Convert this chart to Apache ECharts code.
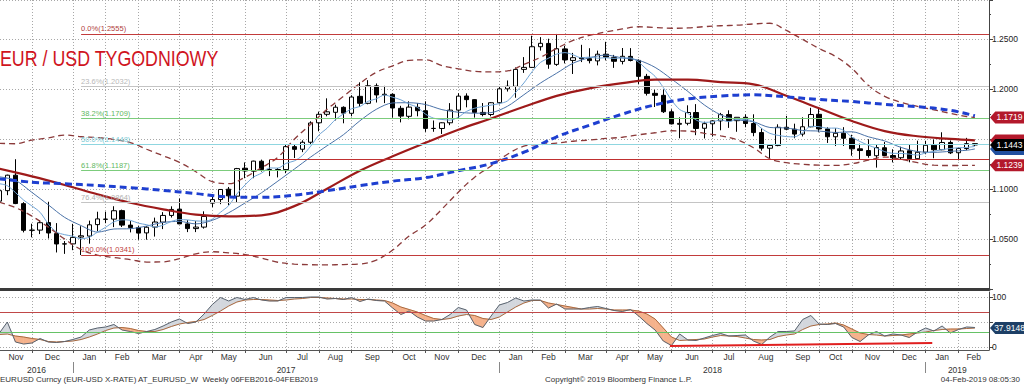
<!DOCTYPE html>
<html><head><meta charset="utf-8">
<script src="https://cdn.jsdelivr.net/npm/echarts@6/dist/echarts.min.js"></script>
<style>html,body{margin:0;padding:0;background:#fff}#c{width:1024px;height:385px}</style>
</head><body><div id="c"></div>
<script>
// ---------- DATA (weekly bars, first bar = week ending 2016-10-28) ----------
const firstBarDate = [2016, 9, 28];
const monthNames = ['Jan','Feb','Mar','Apr','May','Jun','Jul','Aug','Sep','Oct','Nov','Dec'];

const openP = [
1.0880,1.0985,1.1140,1.0855,1.0588,1.0590,1.0665,1.0555,1.0450,1.0452,
1.0520,1.0530,1.0645,1.0700,1.0700,1.0785,1.0640,1.0615,1.0562,1.0620,
1.0670,1.0737,1.0800,1.0652,1.0605,1.0620,1.0860,1.0896,1.1000,1.0930,
1.1210,1.1180,1.1280,1.1195,1.1197,1.1196,1.1426,1.1400,1.1470,1.1665,
1.1750,1.1770,1.1820,1.1760,1.1930,1.1860,1.2035,1.1945,1.1950,1.1810,
1.1730,1.1820,1.1786,1.1609,1.1608,1.1665,1.1792,1.1933,1.1897,1.1769,
1.1748,1.1866,1.2005,1.2030,1.2200,1.2220,1.2427,1.2460,1.2250,1.2405,
1.2290,1.2318,1.2307,1.2285,1.2352,1.2320,1.2280,1.2330,1.2290,1.2130,
1.1960,1.1940,1.1775,1.1650,1.1660,1.1768,1.1610,1.1655,1.1684,1.1747,
1.1686,1.1720,1.1658,1.1567,1.1410,1.1437,1.1620,1.1601,1.1552,1.1625,
1.1750,1.1604,1.1525,1.1560,1.1510,1.1404,1.1387,1.1335,1.1415,1.1337,
1.1315,1.1385,1.1305,1.1370,1.1440,1.1395,1.1468,1.1365,1.1407,1.1456];
const closeP = [
1.0985,1.1140,1.0856,1.0588,1.0590,1.0664,1.0561,1.0451,1.0453,1.0517,
1.0533,1.0643,1.0702,1.0698,1.0784,1.0640,1.0615,1.0560,1.0619,1.0671,
1.0737,1.0797,1.0652,1.0605,1.0620,1.0727,1.0896,1.0997,1.0933,1.1206,
1.1183,1.1281,1.1196,1.1197,1.1196,1.1426,1.1399,1.1470,1.1663,1.1750,
1.1775,1.1821,1.1762,1.1923,1.1860,1.2036,1.1944,1.1951,1.1813,1.1732,
1.1822,1.1786,1.1609,1.1608,1.1665,1.1792,1.1932,1.1897,1.1769,1.1748,
1.1866,1.2005,1.2031,1.2200,1.2220,1.2427,1.2461,1.2252,1.2407,1.2295,
1.2317,1.2307,1.2288,1.2352,1.2323,1.2281,1.2331,1.2289,1.2130,1.1960,
1.1940,1.1776,1.1654,1.1659,1.1768,1.1608,1.1656,1.1684,1.1747,1.1686,
1.1720,1.1658,1.1567,1.1411,1.1438,1.1620,1.1601,1.1552,1.1625,1.1748,
1.1604,1.1525,1.1560,1.1510,1.1404,1.1387,1.1337,1.1417,1.1337,1.1315,
1.1383,1.1305,1.1370,1.1440,1.1395,1.1468,1.1364,1.1407,1.1456,1.1443];
const lowP = [
1.0860,1.0940,1.0850,1.0567,1.0518,1.0550,1.0506,1.0366,1.0352,1.0389,
1.0340,1.0454,1.0579,1.0659,1.0620,1.0621,1.0567,1.0494,1.0494,1.0525,
1.0600,1.0716,1.0652,1.0570,1.0570,1.0605,1.0820,1.0850,1.0839,1.0869,
1.1110,1.1110,1.1176,1.1131,1.1118,1.1160,1.1312,1.1371,1.1450,1.1580,
1.1730,1.1689,1.1660,1.1730,1.1823,1.1850,1.1868,1.1862,1.1717,1.1669,
1.1700,1.1730,1.1574,1.1575,1.1553,1.1641,1.1712,1.1820,1.1717,1.1730,
1.1730,1.1850,1.1978,1.1916,1.2165,1.2215,1.2388,1.2206,1.2235,1.2260,
1.2154,1.2273,1.2260,1.2240,1.2290,1.2215,1.2250,1.2280,1.2054,1.1938,
1.1823,1.1763,1.1649,1.1510,1.1640,1.1541,1.1508,1.1527,1.1590,1.1614,
1.1575,1.1620,1.1530,1.1386,1.1301,1.1430,1.1590,1.1510,1.1528,1.1620,
1.1570,1.1463,1.1432,1.1433,1.1335,1.1301,1.1315,1.1216,1.1330,1.1268,
1.1300,1.1269,1.1300,1.1350,1.1310,1.1390,1.1352,1.1289,1.1390,1.1433];
const highP = [
1.0990,1.1145,1.1300,1.0870,1.0654,1.0690,1.0874,1.0660,1.0480,1.0653,
1.0629,1.0685,1.0774,1.0775,1.0829,1.0795,1.0680,1.0630,1.0630,1.0715,
1.0770,1.0828,1.0906,1.0690,1.0680,1.0778,1.0950,1.1000,1.1022,1.1213,
1.1268,1.1285,1.1296,1.1296,1.1212,1.1445,1.1445,1.1490,1.1680,1.1777,
1.1910,1.1846,1.1830,1.1941,1.2070,1.2092,1.2059,1.2035,1.1960,1.1835,
1.1880,1.1860,1.1880,1.1688,1.1670,1.1862,1.1961,1.1960,1.1900,1.1863,
1.1872,1.2030,1.2089,1.2219,1.2323,1.2537,1.2523,1.2507,1.2555,1.2437,
1.2365,1.2446,1.2412,1.2388,1.2476,1.2345,1.2414,1.2413,1.2300,1.2155,
1.1996,1.1998,1.1800,1.1720,1.1840,1.1852,1.1676,1.1690,1.1764,1.1790,
1.1720,1.1750,1.1750,1.1610,1.1445,1.1650,1.1734,1.1656,1.1720,1.1815,
1.1815,1.1620,1.1610,1.1621,1.1545,1.1456,1.1500,1.1450,1.1472,1.1400,
1.1425,1.1443,1.1486,1.1485,1.1497,1.1570,1.1488,1.1415,1.1514,1.1460];

// fast moving average (one value per week)
const maFast = [
1.1055,1.1035,1.0966,1.0890,1.0832,1.0768,1.0652,1.0571,1.0544,1.0529,
1.0503,1.0519,1.0570,1.0619,1.0672,1.0693,1.0688,1.0659,1.0644,1.0621,
1.0640,1.0677,1.0695,1.0692,1.0682,1.0680,1.0700,1.0769,1.0835,1.0952,
1.1043,1.1120,1.1160,1.1213,1.1211,1.1259,1.1283,1.1338,1.1431,1.1542,
1.1611,1.1696,1.1754,1.1806,1.1828,1.1880,1.1905,1.1943,1.1921,1.1895,
1.1852,1.1821,1.1752,1.1711,1.1698,1.1692,1.1721,1.1779,1.1811,1.1828,
1.1842,1.1857,1.1884,1.1970,1.2064,1.2177,1.2268,1.2312,1.2353,1.2368,
1.2346,1.2316,1.2323,1.2312,1.2317,1.2310,1.2315,1.2315,1.2271,1.2198,
1.2130,1.2019,1.1892,1.1798,1.1759,1.1693,1.1669,1.1675,1.1693,1.1676,
1.1699,1.1699,1.1676,1.1608,1.1559,1.1539,1.1527,1.1524,1.1567,1.1629,
1.1626,1.1611,1.1612,1.1589,1.1521,1.1477,1.1440,1.1411,1.1376,1.1359,
1.1358,1.1351,1.1342,1.1363,1.1379,1.1396,1.1407,1.1415,1.1418,1.1428];

// lines read every second week (week index in weeks2)
const weeks2 = [0,2,4,6,8,10,12,14,16,18,20,22,24,26,28,30,32,34,36,38,40,42,44,46,48,50,52,54,56,58,
  60,62,64,66,68,70,72,74,76,78,80,82,84,86,88,90,92,94,96,98,100,102,104,106,108,110,112,114,116,118,119];
const maSlow = [
1.1124,1.1088,1.0968,1.0843,1.0717,1.0635,1.0570,1.0601,1.0604,1.0631,
1.0667,1.0677,1.0652,1.0688,1.0764,1.0862,1.0964,1.1081,1.1201,1.1322,
1.1435,1.1546,1.1685,1.1800,1.1864,1.1866,1.1848,1.1797,1.1771,1.1761,
1.1767,1.1831,1.1946,1.2062,1.2162,1.2262,1.2317,1.2343,1.2315,1.2291,
1.2220,1.2104,1.1979,1.1844,1.1745,1.1696,1.1675,1.1618,1.1613,1.1588,
1.1582,1.1568,1.1575,1.1525,1.1483,1.1418,1.1377,1.1369,1.1379,1.1390,1.1403];
const bbUpper = [
1.1460,1.1455,1.1492,1.1513,1.1542,1.1525,1.1516,1.1497,1.1466,1.1400,
1.1335,1.1268,1.1175,1.1075,1.1055,1.1120,1.1215,1.1320,1.1500,1.1650,
1.1800,1.1930,1.2060,1.2170,1.2235,1.2290,1.2295,1.2238,1.2205,1.2180,
1.2175,1.2185,1.2250,1.2320,1.2410,1.2490,1.2540,1.2575,1.2605,1.2627,
1.2620,1.2612,1.2615,1.2628,1.2637,1.2643,1.2655,1.2662,1.2590,1.2500,
1.2410,1.2330,1.2210,1.2040,1.1930,1.1870,1.1830,1.1795,1.1760,1.1728,1.1719];
const bbLower = [
1.0870,1.0815,1.0730,1.0620,1.0500,1.0395,1.0340,1.0315,1.0295,1.0270,
1.0272,1.0305,1.0352,1.0373,1.0362,1.0345,1.0310,1.0268,1.0250,1.0243,
1.0242,1.0245,1.0250,1.0290,1.0390,1.0530,1.0640,1.0800,1.0970,1.1120,
1.1232,1.1350,1.1430,1.1448,1.1462,1.1480,1.1492,1.1508,1.1520,1.1545,
1.1565,1.1585,1.1582,1.1560,1.1535,1.1495,1.1415,1.1305,1.1265,1.1250,
1.1240,1.1238,1.1255,1.1290,1.1322,1.1298,1.1265,1.1240,1.1237,1.1238,1.1239];

// lines read every fourth week (week index in weeks4)
const weeks4 = [0,4,8,12,16,20,24,28,32,36,40,44,48,52,56,60,64,68,72,76,80,84,88,92,96,100,104,108,112,116,119];
const maRed = [
1.1205,1.1128,1.1042,1.0949,1.0864,1.0798,1.0745,1.0727,1.0738,1.0830,
1.1005,1.1185,1.1330,1.1465,1.1595,1.1708,1.1825,1.1935,1.2010,1.2062,
1.2097,1.2098,1.2072,1.2050,1.1935,1.1810,1.1683,1.1582,1.1530,1.1503,1.1488];
const maBlue = [
1.1104,1.1070,1.1054,1.1037,1.1015,1.0988,1.0956,1.0922,1.0918,1.0940,
1.0985,1.1035,1.1080,1.1115,1.1185,1.1256,1.1370,1.1525,1.1640,1.1752,
1.1845,1.1905,1.1933,1.1945,1.1925,1.1898,1.1878,1.1850,1.1826,1.1790,1.1735];

// stochastic oscillator (one value per week)
const stochK = [
27,50,10,6,8,17,10,9,11,15, 20,34,38,40,45,34,31,27,31,35,
42,50,56,47,50,66,85,99,92,99, 95,99,94,92,92,99,99,99,100,100,
96,97,95,99,91,96,93,92,78,65, 72,60,52,52,55,65,79,74,45,39,
62,84,89,98,92,94,94,78,86,76, 76,76,79,81,77,73,71,75,62,47,
34,12,3,26,14,13,18,23,27,22, 23,24,12,5,20,31,31,32,55,63,
46,45,47,40,19,11,24,31,22,26, 24,19,30,38,32,42,28,35,40,39];
const stochD = [
25,26,22,20,17,15,11,10,11,12, 15,20,26,33,38,39,37,33,31,31,
35,41,46,49,51,55,63,72,82,90, 94,95,95,94,93,94,96,97,99,99,
98,97,96,96,95,95,94,93,88,80, 75,70,63,57,55,57,62,65,63,57,
55,60,70,80,88,93,93,88,85,82, 79,76,76,77,76,74,74,74,72,66,
56,38,20,13,14,15,16,20,23,22, 21,18,15,14,15,21,24,26,35,42,
45,46,48,44,36,28,25,24,22,23, 24,26,28,30,33,35,36,36,37,37.9148];
const stochTrend = [[81.8, 2], [113.8, 8]];

// retracement levels
const fibPct = ['0.0%','23.6%','38.2%','50.0%','61.8%','76.4%','100.0%'];
const fibLevel = [1.2555, 1.2032, 1.1709, 1.1448, 1.1187, 1.0864, 1.0341];
const fibStartWeek = 10;
const supportLevel = 1.1300, supportStartWeek = 33;
const stochUpper = 70, stochLower = 30;

// ---------- LAYOUT / STYLE ----------
const FONT = 'Liberation Sans, Arial, sans-serif';
const X_MIN = 0.11, X_MAX = 120.72;
const fibColor = ['#c23b3b','#c4c4c4','#7ccc7c','#8fd6e0','#7ccc7c','#c4c4c4','#c23b3b'];
const fibText  = ['#b04040','#b8b8b8','#5fb85f','#7ccbd6','#5fb85f','#b0b0b0','#c04040'];
const dotted = {color:'#a8a8a8', type:[1,2], width:1};
const FILL_UP = '#d3d7dd', FILL_DN = '#f5b28c';

// ---------- derived axis ticks from bar dates ----------
const DAY = 86400000, WEEK = 7*DAY;
const t0 = Date.UTC(firstBarDate[0], firstBarDate[1], firstBarDate[2]);
const nBars = closeP.length;
const lastT = t0 + (nBars-1)*WEEK;
const months = [];
for (let y = 2016, m = 10; ; ) {
  const ms = Date.UTC(y, m, 1);
  if (ms > lastT + 28*DAY) break;
  months.push({idx: Math.floor((ms - t0 - 1)/WEEK), y, m});
  m++; if (m > 11) { m = 0; y++; }
}
const key = v => v.toFixed(3);
const monthTickVals = months.map(o => o.idx);
const monthLabelVals = [], monthLabelMap = {};
for (let k = 0; k < months.length - 1; k++) {
  const a = Math.max(months[k].idx, X_MIN), b = Math.min(months[k+1].idx, X_MAX);
  if (b - a > 1) { const v = (a+b)/2; monthLabelVals.push(v); monthLabelMap[key(v)] = monthNames[months[k].m]; }
}
const janTicks = months.filter(o => o.m === 0);
const yearTickVals = janTicks.map(o => o.idx);
const yearLabelVals = [], yearLabelMap = {};
const yb = [X_MIN].concat(yearTickVals).concat([X_MAX]);
for (let k = 0; k < yb.length - 1; k++) {
  const v = (yb[k] + yb[k+1]) / 2; const yr = 2016 + k;
  yearLabelVals.push(v); yearLabelMap[key(v)] = String(yr);
}

const candleData = closeP.map((c, j) => [j, openP[j], c, lowP[j], highP[j]]);
const perWeek = arr => arr.map((v, j) => [j, v]);
const sampled = (weeks, arr) => arr.map((v, k) => [weeks[k], v]);
const stochSeg = stochK.slice(0, -1).map((k, j) => [j, k, stochD[j], stochK[j+1], stochD[j+1]]);
const lastIdx = nBars - 1;

const tagSym = 'path://M0,6L6,0H40V12H6Z';
function tag(value, color, txt, z, showText) {
  return {coord:[X_MAX, value], value: txt, symbol: tagSym, symbolSize:[35,12], symbolOffset:[18.5,0],
    itemStyle:{color}, label:{show: showText, position:'inside', color:'#fff', fontSize:8.5, fontFamily:FONT, offset:[2,0], formatter: txt}, z};
}

const fibLines = fibLevel.map((lv, k) => [
  {coord:[fibStartWeek, lv], lineStyle:{color:fibColor[k], width:1, type:'solid'},
   label:{show:true, position:'insideStartTop', distance:[0,1], formatter: fibPct[k] + '(' + lv.toFixed(4) + ')', color: fibText[k], fontSize:7.5, fontFamily:FONT}},
  {coord:[X_MAX, lv]}
]);
fibLines.push([{coord:[supportStartWeek, supportLevel], lineStyle:{color:'#c03030', width:1, type:'solid'}, label:{show:false}}, {coord:[X_MAX, supportLevel]}]);

function renderStochFill(params, api) {
  const j = api.value(0), k0 = api.value(1), d0 = api.value(2), k1 = api.value(3), d1 = api.value(4);
  const a0 = k0 - d0, a1 = k1 - d1;
  const P = (x, y) => api.coord([x, y]);
  const children = [];
  const poly = (pts, up) => children.push({type:'polygon', shape:{points:pts},
    style:{fill: up ? FILL_UP : FILL_DN, stroke: up ? FILL_UP : FILL_DN, lineWidth:0.6}});
  if (a0 * a1 >= 0) {
    if (a0 === 0 && a1 === 0) return null;
    poly([P(j, k0), P(j+1, k1), P(j+1, d1), P(j, d0)], (a0 + a1) > 0);
  } else {
    const t = a0 / (a0 - a1), xc = j + t, yc = k0 + t * (k1 - k0);
    poly([P(j, k0), P(xc, yc), P(j, d0)], a0 > 0);
    poly([P(xc, yc), P(j+1, k1), P(j+1, d1)], a1 > 0);
  }
  return {type:'group', children};
}

const chart = echarts.init(document.getElementById('c'), null, {renderer:'svg'});
chart.setOption({
  animation:false,
  backgroundColor:'#fff',
  grid:[
    {left:0, right:35, top:0, height:289},
    {left:0, right:35, top:292, height:58}
  ],
  xAxis:[
    {gridIndex:0, type:'value', min:X_MIN, max:X_MAX,
     axisLine:{show:true, onZero:false, lineStyle:{color:'#3a3a3a', width:3}},
     axisTick:{show:false, customValues:monthTickVals}, axisLabel:{show:false},
     splitLine:{show:true, lineStyle:dotted}},
    {gridIndex:1, type:'value', min:X_MIN, max:X_MAX,
     axisLine:{show:true, onZero:false, lineStyle:{color:'#555', width:1}},
     axisTick:{show:true, customValues:monthTickVals, length:3, lineStyle:{color:'#555'}},
     axisLabel:{show:true, customValues:monthLabelVals, formatter:v => monthLabelMap[key(v)] || '', fontSize:8.5, color:'#333', margin:2, fontFamily:FONT},
     splitLine:{show:true, lineStyle:dotted}},
    {gridIndex:1, type:'value', min:X_MIN, max:X_MAX, position:'bottom', offset:12,
     axisLine:{show:false, onZero:false},
     axisTick:{show:true, customValues:yearTickVals, length:11, lineStyle:{color:'#888'}},
     axisLabel:{show:true, customValues:yearLabelVals, formatter:v => yearLabelMap[key(v)] || '', fontSize:8.5, color:'#333', margin:3, fontFamily:FONT},
     splitLine:{show:false}}
  ],
  yAxis:[
    {gridIndex:0, type:'value', position:'right', min:1.0, max:1.2895, interval:0.05,
     axisLine:{show:true, lineStyle:{color:'#444'}},
     axisTick:{show:true, length:4, lineStyle:{color:'#444'}},
     minorTick:{show:true, splitNumber:2, length:2, lineStyle:{color:'#444'}},
     axisLabel:{formatter:v => (v < 1.01 || v > 1.26 || Math.abs(v-1.15) < 0.001) ? '' : v.toFixed(4), fontSize:8.5, color:'#222', margin:3, fontFamily:FONT},
     splitLine:{show:true, lineStyle:dotted}},
    {gridIndex:1, type:'value', position:'right', min:-6, max:110,
     axisLine:{show:true, lineStyle:{color:'#444'}},
     axisTick:{show:true, customValues:[0,50,100], length:4, lineStyle:{color:'#444'}},
     axisLabel:{customValues:[0,100], fontSize:8.5, color:'#222', margin:3, fontFamily:FONT},
     splitLine:{show:true, lineStyle:dotted}}
  ],
  series:[
    {name:'levels', type:'line', xAxisIndex:0, yAxisIndex:0, data:[[X_MIN, null]], symbol:'none', silent:true,
     markLine:{silent:true, symbol:['none','none'], animation:false, data:fibLines}},
    {name:'EURUSD', type:'candlestick', xAxisIndex:0, yAxisIndex:0, data:candleData, encode:{x:0, y:[1,2,3,4]},
     barWidth:5, clip:true,
     itemStyle:{color:'#ffffff', color0:'#000000', borderColor:'#000000', borderColor0:'#000000', borderWidth:1}},
    {name:'slow', type:'line', data:sampled(weeks2, maSlow), smooth:0.3, symbol:'none', lineStyle:{color:'#4a72a8', width:1}},
    {name:'fast', type:'line', data:perWeek(maFast), smooth:0.3, symbol:'none', lineStyle:{color:'#6fa4d6', width:1}},
    {name:'bbUp', type:'line', data:sampled(weeks2, bbUpper), smooth:0.4, symbol:'none', lineStyle:{color:'#8b3a3a', width:1.3, type:[6,4]},
     markPoint:{silent:true, animation:false, data:[
       tag(bbUpper[bbUpper.length-1], '#b3182b', bbUpper[bbUpper.length-1].toFixed(4), 1, true),
       tag(maRed[maRed.length-1], '#b3182b', maRed[maRed.length-1].toFixed(4), 2, false),
       tag(maSlow[maSlow.length-1], '#1f4fa0', maSlow[maSlow.length-1].toFixed(4), 3, false),
       tag(bbLower[bbLower.length-1], '#b3182b', bbLower[bbLower.length-1].toFixed(4), 4, true),
       tag(closeP[lastIdx], '#000000', closeP[lastIdx].toFixed(4), 5, true)
     ]}},
    {name:'bbLow', type:'line', data:sampled(weeks2, bbLower), smooth:0.4, symbol:'none', lineStyle:{color:'#8b3a3a', width:1.3, type:[6,4]}},
    {name:'maRed', type:'line', data:sampled(weeks4, maRed), smooth:0.4, symbol:'none', lineStyle:{color:'#9e1a1a', width:2.2}},
    {name:'maBlue', type:'line', data:sampled(weeks4, maBlue), smooth:0.4, symbol:'none', lineStyle:{color:'#1e3fd0', width:3, type:[7,4]}},

    {name:'stochFill', type:'custom', xAxisIndex:1, yAxisIndex:1, data:stochSeg, encode:{x:0, y:1},
     renderItem:renderStochFill, clip:true, silent:true},
    {name:'%D', type:'line', xAxisIndex:1, yAxisIndex:1, data:perWeek(stochD), symbol:'none', lineStyle:{color:'#a8693f', width:1},
     markLine:{silent:true, symbol:['none','none'], animation:false, label:{show:false}, data:[
       {yAxis:stochUpper, lineStyle:{color:'#c04848', width:1, type:'solid'}},
       {yAxis:stochLower, lineStyle:{color:'#66c266', width:1, type:'solid'}}]},
     markPoint:{silent:true, animation:false, data:[tag(stochD[lastIdx], '#1d3f66', stochD[lastIdx].toFixed(4), 1, true)]}},
    {name:'%K', type:'line', xAxisIndex:1, yAxisIndex:1, data:perWeek(stochK), symbol:'none', lineStyle:{color:'#59636f', width:1}},
    {name:'trend', type:'line', xAxisIndex:1, yAxisIndex:1, data:stochTrend, symbol:'none', lineStyle:{color:'#e02020', width:2}}
  ],
  graphic:[
    {type:'text', left:0, top:47, z:100, scaleX:0.81, style:{text:'EUR / USD TYGODNIOWY', fill:'#d0141e', font:'22px ' + FONT}},
    {type:'text', left:0, top:375, style:{text:'EURUSD Curncy (EUR-USD X-RATE) AT_EURUSD_W  Weekly 06FEB2016-04FEB2019', fill:'#333', font:'8px ' + FONT}},
    {type:'text', left:545, top:375, style:{text:'Copyright\u00a9 2019 Bloomberg Finance L.P.', fill:'#333', font:'8px ' + FONT}},
    {type:'text', right:4, top:375, style:{text:'04-Feb-2019 08:05:30', fill:'#333', font:'8px ' + FONT}}
  ]
});
</script></body></html>
